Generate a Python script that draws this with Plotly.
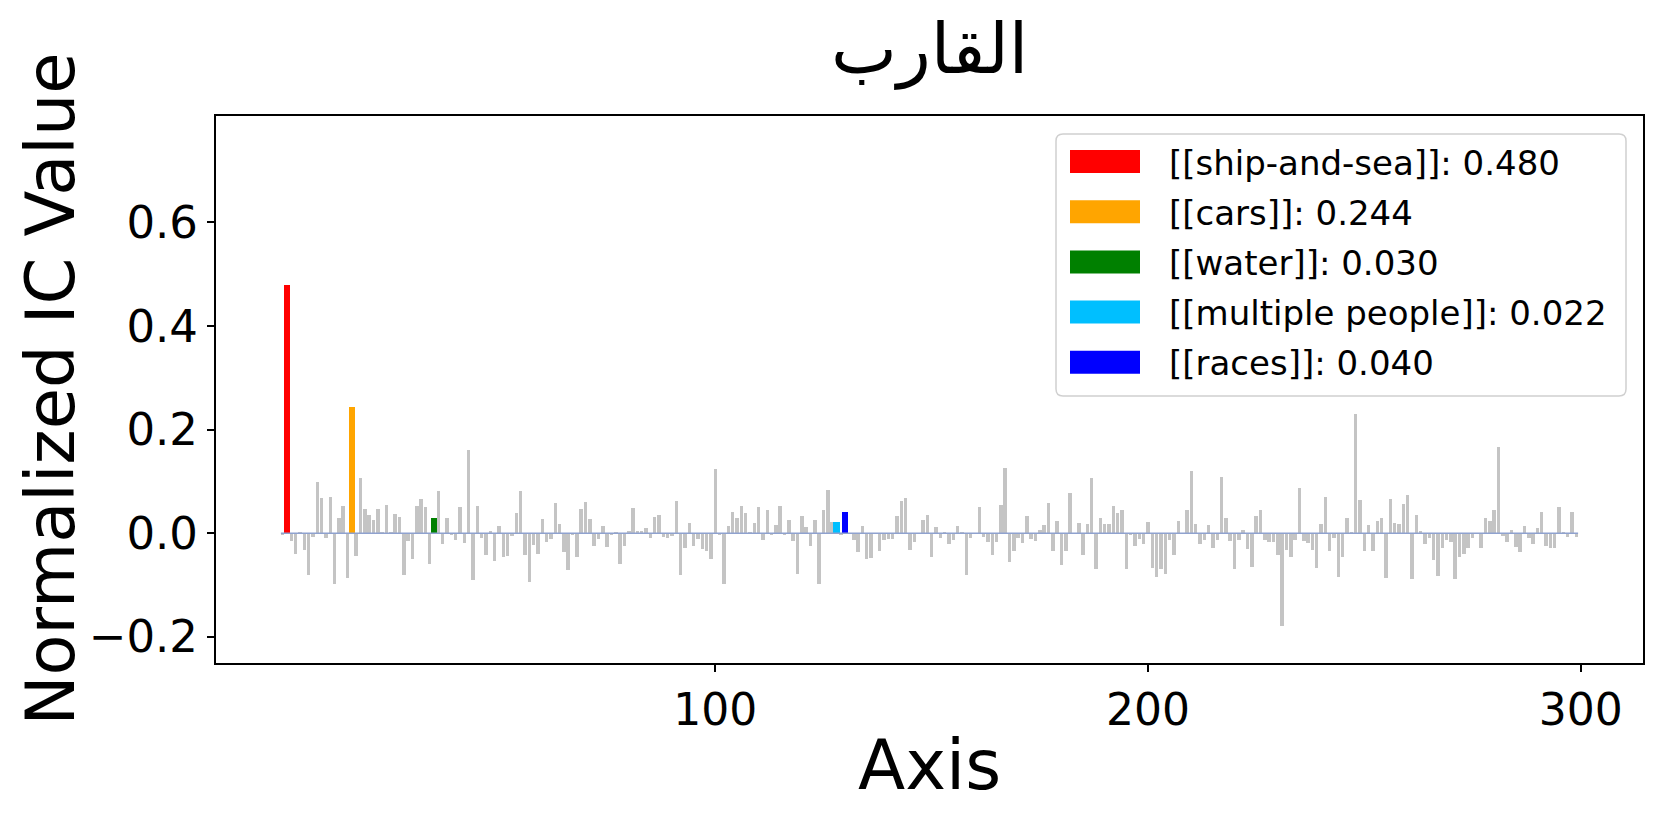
import plotly.graph_objects as go

# ---------------- data ----------------
axis_index = list(range(300))
ic_values = [
    -0.004,
    0.480, -0.015, -0.040, 0.003, -0.032, -0.081, -0.008, 0.099, 0.067, -0.009,
    0.070, -0.098, 0.029, 0.052, -0.087, 0.244, -0.045, 0.106, 0.047, 0.036,
    0.026, 0.047, 0.001, 0.055, 0.003, 0.037, 0.031, -0.081, -0.016, -0.050,
    0.053, 0.065, 0.050, -0.060, 0.030, 0.081, -0.020, 0.030, -0.002, -0.013,
    0.050, -0.019, 0.160, -0.090, 0.052, -0.010, -0.043, 0.004, -0.054, 0.013,
    -0.046, -0.044, -0.006, 0.038, 0.081, -0.042, -0.095, -0.022, -0.041, 0.027,
    -0.018, -0.011, 0.059, 0.017, -0.037, -0.071, -0.002, -0.046, 0.046, 0.060,
    0.028, -0.025, -0.011, 0.014, -0.027, -0.002, 0.001, -0.060, -0.025, 0.004,
    0.048, 0.005, 0.004, 0.010, -0.010, 0.032, 0.036, -0.008, -0.010, -0.006,
    0.063, -0.081, -0.029, 0.020, -0.024, -0.011, -0.031, -0.034, -0.049, 0.123,
    -0.002, -0.098, 0.013, 0.040, 0.030, 0.052, 0.038, 0.001, 0.020, 0.050,
    -0.013, 0.045, -0.004, 0.015, 0.052, -0.002, 0.025, -0.015, -0.078, 0.034,
    0.011, -0.025, 0.026, -0.099, 0.045, 0.084, 0.021, 0.022, -0.002, 0.040,
    -0.001, -0.013, -0.037, 0.014, -0.049, -0.048, -0.001, -0.035, -0.013, -0.011,
    -0.011, 0.034, 0.062, 0.067, -0.032, -0.018, 0.000, 0.026, 0.035, -0.046,
    0.011, -0.010, 0.003, -0.021, -0.014, 0.013, 0.003, -0.080, -0.010, 0.000,
    0.050, -0.008, -0.017, -0.043, -0.017, 0.054, 0.125, -0.056, -0.034, -0.010,
    -0.019, 0.033, -0.011, -0.016, 0.006, 0.016, 0.059, -0.034, 0.023, -0.062,
    -0.034, 0.078, -0.001, 0.020, -0.043, 0.017, 0.107, -0.069, 0.029, 0.017,
    0.018, 0.053, 0.039, 0.045, -0.070, -0.002, -0.024, -0.011, -0.020, 0.022,
    -0.067, -0.085, -0.069, -0.078, -0.013, -0.042, 0.023, 0.000, 0.044, 0.120,
    0.017, -0.020, -0.013, 0.015, -0.028, -0.013, 0.109, 0.029, -0.016, -0.069,
    -0.013, 0.006, -0.030, -0.065, 0.034, 0.045, -0.013, -0.017, -0.017, -0.043,
    -0.179, -0.032, -0.047, -0.014, 0.088, -0.016, -0.019, -0.032, -0.068, 0.018,
    0.069, -0.034, -0.009, -0.085, -0.046, 0.030, 0.003, 0.230, 0.064, -0.034,
    0.015, -0.035, 0.024, 0.029, -0.087, 0.066, 0.020, 0.018, 0.057, 0.073,
    -0.089, 0.036, 0.004, -0.020, -0.010, -0.052, -0.083, -0.028, -0.014, -0.017,
    -0.088, -0.046, -0.041, -0.029, -0.010, -0.001, -0.029, 0.029, 0.024, 0.045,
    0.167, -0.006, -0.017, 0.006, -0.026, -0.036, 0.014, -0.010, -0.020, 0.010,
    0.041, -0.025, -0.029, -0.029, 0.050, 0.003, -0.008, 0.041, -0.007,
]

highlight_index = [1, 16, 35, 128, 130]
highlight_labels = ["[[ship-and-sea]]", "[[cars]]", "[[water]]",
                    "[[multiple people]]", "[[races]]"]
highlight_colors = ["#ff0000", "#ffa500", "#008000", "#00bfff", "#0000ff"]

title_text = "القارب"
x_title = "Axis"
y_title = "Normalized IC Value"
x_ticks = [100, 200, 300]
y_ticks = [-0.2, 0.0, 0.2, 0.4, 0.6]

# ---------------- layout geometry (page pixels) ----------------
W, H = 1661, 830
OFF = 8                       # body margin of the html page
P_LEFT, P_RIGHT, P_TOP, P_BOTTOM = 216, 1643, 116, 663
ML = P_LEFT - OFF
MT = P_TOP - OFF
MR = W - (P_RIGHT - OFF)
MB = H - (P_BOTTOM - OFF)
PW, PH = P_RIGHT - P_LEFT, P_BOTTOM - P_TOP
FONT = "DejaVu Sans"


def px_x(p):
    return (p - P_LEFT) / PW


def px_y(p):
    return (P_BOTTOM - p) / PH


fig = go.Figure()

gray_x = [x for x in axis_index if x not in highlight_index]
gray_y = [ic_values[x] for x in gray_x]
fig.add_trace(go.Bar(x=gray_x, y=gray_y, width=0.8, marker_color="#c4c4c4",
                     marker_line_width=0, showlegend=False, name="other"))

for idx, lab, col in zip(highlight_index, highlight_labels, highlight_colors):
    fig.add_trace(go.Bar(x=[idx], y=[ic_values[idx]], width=1.5,
                         marker_color=col, marker_line_width=0,
                         showlegend=False,
                         name=f"{lab}: {ic_values[idx]:.3f}"))

# zero reference line
fig.add_trace(go.Scatter(x=[axis_index[0] - 0.4, axis_index[-1] + 0.4], y=[0, 0],
                         mode="lines", line=dict(color="#8fa2cf", width=1.5),
                         showlegend=False, hoverinfo="skip"))

shapes = []
annotations = []

# legend box (rounded)
bx0, bx1, by0, by1, r = 1056, 1626, 134, 396, 7
X0, X1 = px_x(bx0), px_x(bx1)
Y0, Y1 = px_y(by1), px_y(by0)
rx, ry = r / PW, r / PH
path = (f"M{X0+rx},{Y0} L{X1-rx},{Y0} Q{X1},{Y0} {X1},{Y0+ry} "
        f"L{X1},{Y1-ry} Q{X1},{Y1} {X1-rx},{Y1} L{X0+rx},{Y1} "
        f"Q{X0},{Y1} {X0},{Y1-ry} L{X0},{Y0+ry} Q{X0},{Y0} {X0+rx},{Y0} Z")
shapes.append(dict(type="path", xref="paper", yref="paper", path=path,
                   fillcolor="rgba(255,255,255,0.8)",
                   line=dict(color="#d0d0d0", width=1.5), layer="above"))

row0, pitch = 161.5, 50.2
for k, (idx, lab, col) in enumerate(zip(highlight_index, highlight_labels, highlight_colors)):
    cy = row0 + k * pitch
    shapes.append(dict(type="rect", xref="paper", yref="paper",
                       x0=px_x(1070), x1=px_x(1140),
                       y0=px_y(cy + 11.5), y1=px_y(cy - 11.5),
                       fillcolor=col, line=dict(width=0), layer="above"))
    annotations.append(dict(xref="paper", yref="paper", x=px_x(1167),
                            y=px_y(cy + 1), xanchor="left", yanchor="middle",
                            text=f"{lab}: {ic_values[idx]:.3f}", showarrow=False,
                            font=dict(family=FONT, size=34, color="black")))

# title and axis titles
annotations.append(dict(xref="paper", yref="paper", x=0.5, y=px_y(49),
                        xanchor="center", yanchor="middle", text=title_text,
                        showarrow=False, font=dict(family=FONT, size=70, color="black")))
annotations.append(dict(xref="paper", yref="paper", x=0.5, y=px_y(765),
                        xanchor="center", yanchor="middle", text=x_title,
                        showarrow=False, font=dict(family=FONT, size=69, color="black")))
annotations.append(dict(xref="paper", yref="paper", x=px_x(50), y=0.5,
                        xanchor="center", yanchor="middle", text=y_title,
                        textangle=-90, showarrow=False,
                        font=dict(family=FONT, size=67, color="black")))

fig.update_layout(
    width=W, height=H,
    margin=dict(l=ML, r=MR, t=MT, b=MB, pad=0),
    paper_bgcolor="white", plot_bgcolor="white",
    bargap=0, barmode="overlay",
    font=dict(family=FONT, color="black"),
    shapes=shapes, annotations=annotations,
    showlegend=False,
)
fig.update_xaxes(range=[-15.4, 314.4], tickvals=x_ticks, ticks="outside",
                 ticklen=7, tickwidth=2, tickcolor="black",
                 showline=True, linewidth=2, linecolor="black", mirror=True,
                 showgrid=False, zeroline=False,
                 tickfont=dict(family=FONT, size=44, color="black"))
fig.update_yaxes(range=[-0.2507, 0.8054], tickvals=y_ticks, tickformat=".1f",
                 ticks="outside", ticklen=7, tickwidth=2, tickcolor="black",
                 showline=True, linewidth=2, linecolor="black", mirror=True,
                 showgrid=False, zeroline=False,
                 tickfont=dict(family=FONT, size=45, color="black"))

fig.write_html("out.html")
